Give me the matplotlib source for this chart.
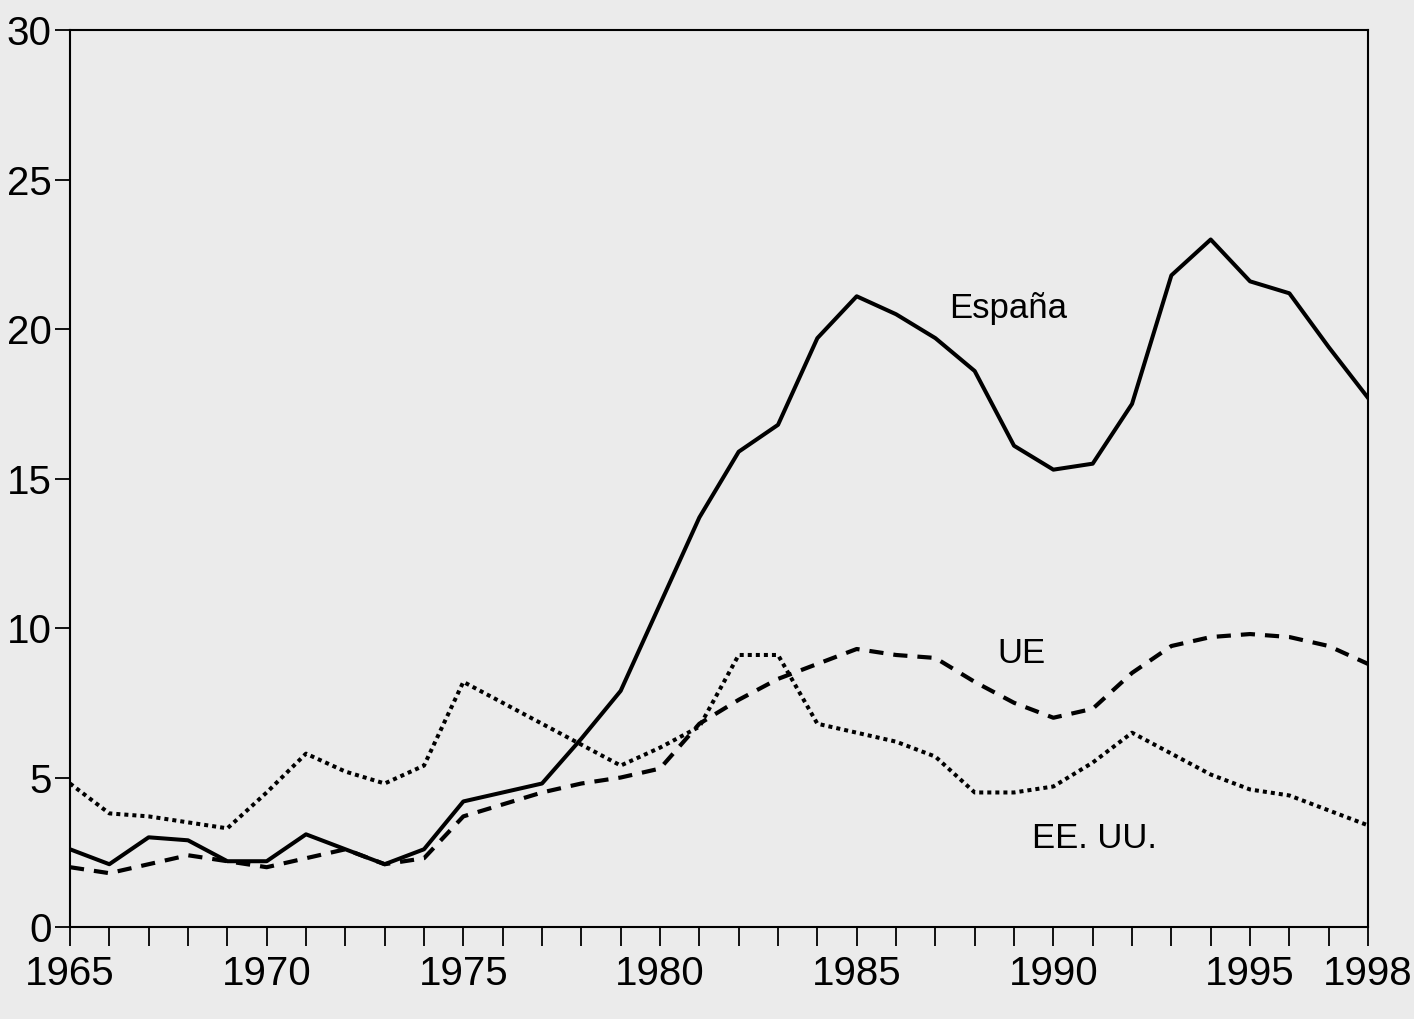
import matplotlib.pyplot as plt
from matplotlib.ticker import MultipleLocator, FixedLocator

# Years and series values
years = list(range(1965, 1999))

espana = [2.6, 2.1, 3.0, 2.9, 2.2, 2.2, 3.1, 2.6, 2.1, 2.6,
          4.2, 4.5, 4.8, 6.3, 7.9, 10.8, 13.7, 15.9, 16.8, 19.7,
          21.1, 20.5, 19.7, 18.6, 16.1, 15.3, 15.5, 17.5, 21.8, 23.0,
          21.6, 21.2, 19.4, 17.7]

ue = [2.0, 1.8, 2.1, 2.4, 2.2, 2.0, 2.3, 2.6, 2.1, 2.3,
      3.7, 4.1, 4.5, 4.8, 5.0, 5.3, 6.8, 7.6, 8.3, 8.8,
      9.3, 9.1, 9.0, 8.2, 7.5, 7.0, 7.3, 8.5, 9.4, 9.7,
      9.8, 9.7, 9.4, 8.8]

eeuu = [4.8, 3.8, 3.7, 3.5, 3.3, 4.5, 5.8, 5.2, 4.8, 5.4,
        8.2, 7.5, 6.8, 6.1, 5.4, 6.0, 6.7, 9.1, 9.1, 6.8,
        6.5, 6.2, 5.7, 4.5, 4.5, 4.7, 5.5, 6.5, 5.8, 5.1,
        4.6, 4.4, 3.9, 3.4]

x_labels = [1965, 1970, 1975, 1980, 1985, 1990, 1995, 1998]
y_labels = [0, 5, 10, 15, 20, 25, 30]

bg = '#ebebeb'
plt.rcParams['font.family'] = ['Liberation Sans Narrow', 'Liberation Sans', 'DejaVu Sans']

fig = plt.figure(figsize=(14.14, 10.19), dpi=100, facecolor=bg)
ax = fig.add_axes([0.0495, 0.0903, 0.918, 0.880], facecolor=bg)

ax.plot(years, espana, color='black', lw=2.9, linestyle='-')
ax.plot(years, ue, color='black', lw=3.0, linestyle=(0, (3.4, 2.4)))
ax.plot(years, eeuu, color='black', lw=2.9, linestyle=(0, (1.0, 1.0)))

# series labels placed next to the lines
ax.text(1988.85, 20.7, 'España', fontsize=25, ha='center', va='center')
ax.text(1989.2, 9.15, 'UE', fontsize=25, ha='center', va='center')
ax.text(1991.05, 2.95, 'EE. UU.', fontsize=25, ha='center', va='center')

ax.set_xlim(1965, 1998)
ax.set_ylim(0, 30)

ax.xaxis.set_major_locator(FixedLocator(x_labels))
ax.xaxis.set_minor_locator(MultipleLocator(1))
ax.set_xticklabels([str(v) for v in x_labels])
ax.set_yticks(y_labels)
ax.set_yticklabels([str(v) for v in y_labels])

ax.tick_params(axis='x', which='both', direction='out', length=14, width=1.3, labelsize=29, pad=6)
ax.tick_params(axis='y', direction='out', length=11, width=1.3, labelsize=29, pad=2)

for side in ['top', 'right', 'left', 'bottom']:
    ax.spines[side].set_linewidth(1.5)

fig.savefig('out.png', dpi=100, facecolor=bg)
